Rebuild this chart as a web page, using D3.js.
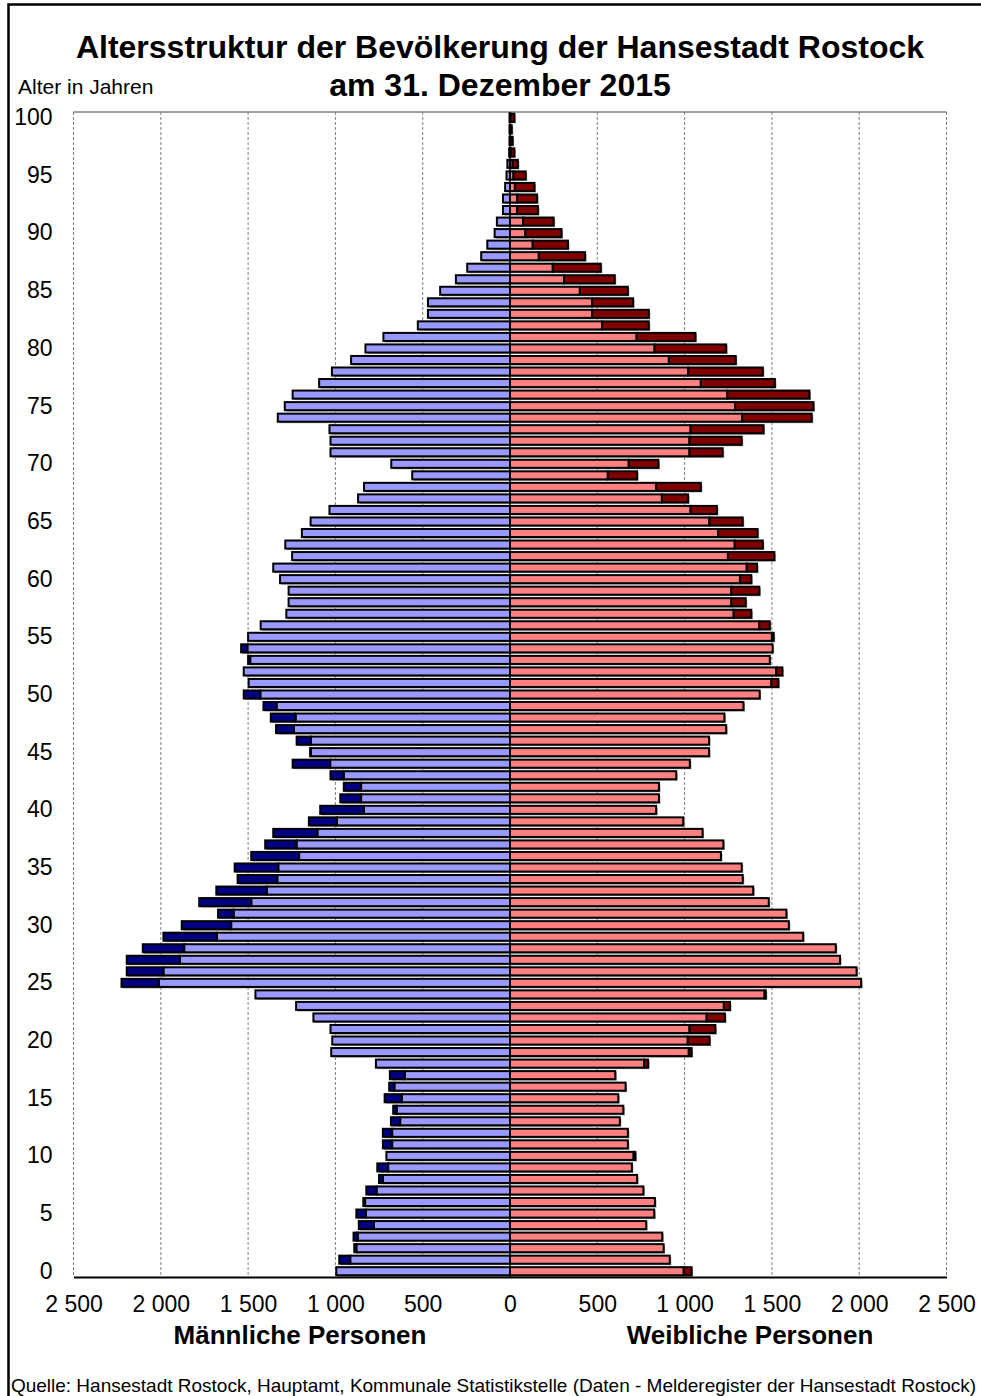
<!DOCTYPE html>
<html>
<head>
<meta charset="utf-8">
<style>
body { margin: 0; background: #fff; }
svg { display: block; font-family: "Liberation Sans", Arial, sans-serif; }
</style>
</head>
<body>
<svg width="981" height="1396"></svg>
<script src="https://d3js.org/d3.v7.min.js"></script>
<script>
// Einwohner nach Alter (0 .. 100)
const ages = d3.range(0, 101);
const male = [995, 978, 892, 896, 866, 880, 840, 823, 750, 760,
              708, 728, 728, 682, 669, 718, 692, 688, 768, 1024,
              1018, 1028, 1126, 1225, 1458, 2225, 2195, 2195, 2103, 1985,
              1880, 1672, 1780, 1682, 1560, 1577, 1482, 1402, 1356, 1152,
              1087, 972, 952, 1028, 1245, 1145, 1222, 1340, 1370, 1412,
              1525, 1497, 1525, 1500, 1540, 1500, 1428, 1281, 1268, 1268,
              1317, 1356, 1248, 1287, 1192, 1142, 1034, 870, 836, 560,
              680, 1028, 1028, 1034, 1330, 1290, 1245, 1093, 1020, 910,
              828, 725, 528, 470, 470, 400, 310, 245, 165, 130,
              88, 75, 40, 40, 28, 20, 15, 5, 3, 3,
              3];
const female = [1040, 915, 880, 872, 780, 826, 830, 764, 728, 698,
                718, 675, 675, 629, 649, 620, 662, 603, 791, 1040,
                1143, 1176, 1231, 1260, 1465, 2011, 1985, 1890, 1866, 1679,
                1597, 1583, 1482, 1393, 1333, 1327, 1208, 1222, 1103, 992,
                837, 853, 853, 952, 1030, 1140, 1140, 1238, 1228, 1337,
                1430, 1537, 1560, 1488, 1504, 1510, 1488, 1382, 1350, 1428,
                1382, 1415, 1514, 1448, 1418, 1333, 1185, 1020, 1093, 728,
                850, 1218, 1327, 1452, 1728, 1738, 1715, 1517, 1448, 1293,
                1238, 1062, 795, 795, 705, 675, 600, 520, 430, 332,
                295, 250, 160, 155, 140, 90, 45, 25, 15, 10,
                25];
const xTicks = [-2500, -2000, -1500, -1000, -500, 0, 500, 1000, 1500, 2000, 2500];
const yTicks = d3.range(0, 101, 5);

const svg = d3.select("svg");
const plot = {left: 73.5, right: 946.5, top: 112, bottom: 1277};

const x = d3.scaleLinear().domain([-2500, 2500]).range([plot.left, plot.right]);
const y = d3.scaleBand().domain(ages.slice().reverse()).range([plot.top, plot.bottom]).paddingInner(0.3).paddingOuter(0.15);
const fmt = d3.formatLocale({decimal: ",", thousands: " ", grouping: [3], currency: ["", "€"]}).format(",d");

// Rahmen
svg.append("rect")
  .attr("x", 8.5).attr("y", 4.5).attr("width", 1000).attr("height", 1420)
  .attr("fill", "none").attr("stroke", "#000").attr("stroke-width", 2.5);

// Titel
svg.append("text").attr("x", 500).attr("y", 58).attr("text-anchor", "middle")
  .style("font-size", "32px").style("font-weight", "bold")
  .text("Altersstruktur der Bevölkerung der Hansestadt Rostock");
svg.append("text").attr("x", 500).attr("y", 96).attr("text-anchor", "middle")
  .style("font-size", "32px").style("font-weight", "bold")
  .text("am 31. Dezember 2015");
svg.append("text").attr("x", 18).attr("y", 94)
  .style("font-size", "21px")
  .text("Alter in Jahren");

// Gitter
svg.append("line").attr("x1", plot.left).attr("x2", plot.right)
  .attr("y1", plot.top).attr("y2", plot.top)
  .attr("stroke", "#808080").attr("stroke-width", 1.5);
svg.append("g").selectAll("line")
  .data(xTicks.filter(d => d !== 0))
  .enter().append("line")
  .attr("x1", d => x(d)).attr("x2", d => x(d))
  .attr("y1", plot.top).attr("y2", plot.bottom)
  .attr("stroke", "#808080").attr("stroke-width", 1)
  .attr("stroke-dasharray", "3,2");

// Balken: hell bis zum kleineren Wert, dunkel für den Überschuss
const segs = [];
ages.forEach((a, i) => {
  const m = male[i], f = female[i];
  segs.push({age: a, x0: 0, x1: -Math.min(m, f), fill: "#9999FF"});
  if (m > f) segs.push({age: a, x0: -f, x1: -m, fill: "#000080"});
  segs.push({age: a, x0: 0, x1: Math.min(m, f), fill: "#FF8080"});
  if (f > m) segs.push({age: a, x0: m, x1: f, fill: "#800000"});
});

const bars = svg.append("g");
bars.selectAll("rect.shadow")
  .data(segs)
  .enter().append("rect")
  .attr("class", "shadow")
  .attr("x", d => Math.min(x(d.x0), x(d.x1)) + 1.5)
  .attr("y", d => y(d.age) + 1.5)
  .attr("width", d => Math.abs(x(d.x1) - x(d.x0)))
  .attr("height", y.bandwidth())
  .attr("fill", "#999");
bars.selectAll("rect.bar")
  .data(segs)
  .enter().append("rect")
  .attr("class", "bar")
  .attr("x", d => Math.min(x(d.x0), x(d.x1)))
  .attr("y", d => y(d.age))
  .attr("width", d => Math.abs(x(d.x1) - x(d.x0)))
  .attr("height", y.bandwidth())
  .attr("fill", d => d.fill)
  .attr("stroke", "#000").attr("stroke-width", 2);

// Mittellinie
svg.append("line").attr("x1", x(0)).attr("x2", x(0))
  .attr("y1", plot.top).attr("y2", plot.bottom)
  .attr("stroke", "#000").attr("stroke-width", 1.5);

// Achsen
const xAxis = svg.append("g")
  .attr("transform", `translate(0,${plot.bottom})`)
  .call(d3.axisBottom(x).tickValues(xTicks).tickSize(0).tickPadding(19)
    .tickFormat(d => fmt(Math.abs(d))));
xAxis.select(".domain").attr("stroke", "#000").attr("stroke-width", 2);
xAxis.selectAll("text").style("font-size", "23px").style("font-family", "Liberation Sans, Arial, sans-serif");

const yAxis = svg.append("g")
  .attr("transform", `translate(${plot.left},0)`)
  .call(d3.axisLeft(y).tickValues(yTicks).tickSize(0).tickPadding(21));
yAxis.select(".domain").remove();
yAxis.selectAll("text").style("font-size", "23px").style("font-family", "Liberation Sans, Arial, sans-serif");

svg.append("text").attr("x", 300).attr("y", 1344).attr("text-anchor", "middle")
  .style("font-size", "26px").style("font-weight", "bold")
  .text("Männliche Personen");
svg.append("text").attr("x", 750).attr("y", 1344).attr("text-anchor", "middle")
  .style("font-size", "26px").style("font-weight", "bold")
  .text("Weibliche Personen");

svg.append("text").attr("x", 493.5).attr("y", 1392).attr("text-anchor", "middle")
  .style("font-size", "19px")
  .text("Quelle: Hansestadt Rostock, Hauptamt, Kommunale Statistikstelle (Daten - Melderegister der Hansestadt Rostock)");
</script>
</body>
</html>
